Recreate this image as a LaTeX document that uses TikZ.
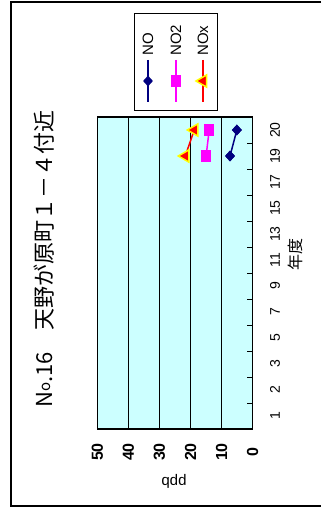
\documentclass[tikz,border=0pt]{standalone}
\usepackage{fontspec}
\setmainfont{Liberation Sans}
\newfontfamily\jp{Noto Sans CJK JP}
\usetikzlibrary{shapes.geometric}
\definecolor{plotcyan}{RGB}{204,255,255}
\definecolor{nonavy}{RGB}{0,0,128}
\definecolor{nomag}{RGB}{255,0,255}
\definecolor{noxred}{RGB}{255,0,0}
\definecolor{noxyel}{RGB}{255,255,0}
\begin{document}
\begin{tikzpicture}[x=1bp,y=-1bp,
  frame/.style={draw=black,line width=2bp},
  plotbg/.style={fill=plotcyan,draw=black,line width=1.2bp},
  gridln/.style={draw=black,line width=0.9bp},
  tickln/.style={draw=black,line width=0.9bp},
  nomk/.style={diamond,fill=nonavy,inner sep=0pt,minimum width=10bp,minimum height=11bp},
  notwomk/.style={rectangle,fill=nomag,inner sep=0pt,minimum width=10bp,minimum height=12bp},
  noxmk/.style={regular polygon,regular polygon sides=3,shape border rotate=90,fill=noxred,draw=noxyel,line width=1.5bp,inner sep=0pt,minimum size=14bp},
  noln/.style={draw=nonavy,line width=1.5bp},
  notwoln/.style={draw=nomag,line width=1.5bp},
  noxln/.style={draw=noxred,line width=1.5bp},
  titletxt/.style={rotate=90,inner sep=0pt,font=\jp\fontsize{22bp}{22bp}\selectfont},
  cattxt/.style={rotate=90,inner sep=0pt,font=\fontsize{14bp}{14bp}\selectfont},
  valtxt/.style={rotate=90,inner sep=0pt,font=\bfseries\fontsize{16bp}{16bp}\selectfont},
  legtxt/.style={rotate=90,inner sep=0pt,anchor=west,font=\fontsize{15bp}{15bp}\selectfont},
  legbox/.style={draw=black,fill=white,line width=1bp}
]
\useasboundingbox (0,0) rectangle (321,512);
% outer frame
\draw[frame] (321,2) -- (11,2) -- (11,506) -- (321,506);
% title
\node[titletxt,anchor=west] (title) at (44,408) {N\raisebox{2bp}{\fontsize{15bp}{15bp}\selectfont o}.16　天野が原町１－４付近};
% legend
\draw[legbox] (134,14) rectangle (217,111);
\coordinate (l1a) at (148,60); \coordinate (l1b) at (148,102);
\coordinate (l2a) at (176,60); \coordinate (l2b) at (176,102);
\coordinate (l3a) at (203,60); \coordinate (l3b) at (203,102);
\draw[noln] (l1a) -- (l1b);
\draw[notwoln] (l2a) -- (l2b);
\draw[noxln] (l3a) -- (l3b);
\node[nomk] (lno) at (148,81) {};
\node[notwomk] (lnotwo) at (176,81) {};
\node[noxmk] (lnox) at (203,81) {};
\node[legtxt] (tno) at (148,56) {NO};
\node[legtxt] (tnotwo) at (176,56) {NO2};
\node[legtxt] (tnox) at (203,56) {NOx};
% plot area
\draw[plotbg] (97.3,117) rectangle (252.7,429);
\foreach \v in {10,20,30,40}{
  \draw[gridln] ({252.7-3.108*\v},117) -- ({252.7-3.108*\v},429);
}
\foreach \i in {1,...,11}{
  \draw[tickln] (247,{429-26*\i}) -- (252.7,{429-26*\i});
}
\draw[black,line width=1.2bp] (97.3,117) rectangle (252.7,429);
% category labels
\foreach \lab [count=\i] in {1,2,3,5,7,9,11,13,15,17,19,20}{
  \node[cattxt] (c\i) at (275,{429-13-26*(\i-1)}) {\lab};
}
\node[rotate=90,inner sep=0pt,font=\jp\fontsize{16bp}{16bp}\selectfont] (xtitle) at (295,254) {年度};
% value labels
\foreach \v in {0,10,20,30,40,50}{
  \node[valtxt] (v\v) at ({252.7-3.108*\v},452) {\v};
}
\node[rotate=180,inner sep=0pt,font=\fontsize{15bp}{15bp}\selectfont] (ytitle) at (174,481) {ppb};
% data
\node[nomk] (no19) at ({252.7-3.108*7.3},156) {};
\node[nomk] (no20) at ({252.7-3.108*5.1},130) {};
\node[notwomk] (notwo19) at ({252.7-3.108*15.0},156) {};
\node[notwomk] (notwo20) at ({252.7-3.108*14.0},130) {};
\draw[noln] (no19.center) -- (no20.center);
\draw[notwoln] (notwo19.center) -- (notwo20.center);
\node[nomk] at (no19) {};
\node[nomk] at (no20) {};
\node[notwomk] at (notwo19) {};
\node[notwomk] at (notwo20) {};
\coordinate (nox19) at ({252.7-3.108*21.7},156);
\coordinate (nox20) at ({252.7-3.108*18.8},130);
\draw[noxln] (nox19) -- (nox20);
\node[noxmk] (noxm19) at (nox19) {};
\node[noxmk] (noxm20) at (nox20) {};
\end{tikzpicture}
\end{document}
